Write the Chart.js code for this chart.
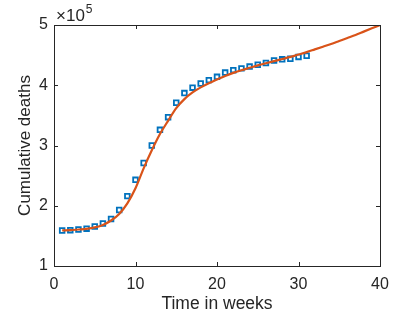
<!DOCTYPE html>
<html>
<head>
<meta charset="utf-8">
<script src="https://cdn.jsdelivr.net/npm/chart.js@4"></script>
<style>
  html, body { margin: 0; padding: 0; background: #fff; }
  canvas { display: block; }
</style>
</head>
<body>
<canvas id="grafica" width="420" height="315"></canvas>
<script>
// datos observados (muertes acumuladas por semana)
const semanas = [1,2,3,4,5,6,7,8,9,10,11,12,13,14,15,16,17,18,19,20,21,22,23,24,25,26,27,28,29,30,31];
const muertes = [159000,159500,160600,162000,165600,170500,178000,193000,216000,243000,271000,300000,
  326000,347000,371000,387000,396000,403000,408500,414000,421000,425000,428000,431000,434000,437000,
  441000,443000,444000,447000,449000];

// curva del modelo
const semanasModelo = [1,2,3,4,5,6,7,8,9,10,11,12,13,14,15,16,17,18,19,20,21,22,23,24,25,26,27,28,29,30,
  31,32,33,34,35,36,37,38,39,40];
const muertesModelo = [159000,159500,160600,161700,164000,168000,175500,186500,204000,229000,262000,292000,
  319000,341000,362000,377000,388000,396500,403500,409500,415500,420500,425000,429000,433000,436500,
  440000,443500,447000,451000,455000,459500,464000,468500,473500,478500,483500,489000,494500,500000];

const xTicks = [0, 10, 20, 30, 40];
const yTicks = [100000, 200000, 300000, 400000, 500000];

const colorTexto = "#262626";
const fuente = "'Liberation Sans', Arial, sans-serif";

// caja y marcas hacia adentro, estilo MATLAB
const cajaPlugin = {
  id: "caja",
  afterDraw(chart) {
    const ctx = chart.ctx;
    const a = chart.chartArea;
    const sx = chart.scales.x, sy = chart.scales.y;
    ctx.save();
    ctx.strokeStyle = colorTexto;
    ctx.lineWidth = 1;
    ctx.beginPath();
    xTicks.forEach(v => {
      const px = Math.round(sx.getPixelForValue(v)) + 0.5;
      ctx.moveTo(px, a.bottom); ctx.lineTo(px, a.bottom - 4);
      ctx.moveTo(px, a.top); ctx.lineTo(px, a.top + 4);
    });
    yTicks.forEach(v => {
      const py = Math.round(sy.getPixelForValue(v)) + 0.5;
      ctx.moveTo(a.left, py); ctx.lineTo(a.left + 4, py);
      ctx.moveTo(a.right, py); ctx.lineTo(a.right - 4, py);
    });
    ctx.stroke();
    ctx.strokeRect(Math.round(a.left) + 0.5, Math.round(a.top) + 0.5,
      Math.round(a.right - a.left), Math.round(a.bottom - a.top));
    // multiplicador x10^5
    ctx.fillStyle = colorTexto;
    ctx.textBaseline = "alphabetic";
    ctx.textAlign = "left";
    ctx.font = "17px " + fuente;
    ctx.fillText("\u00d710", a.left + 2, a.top - 4);
    const w = ctx.measureText("\u00d710").width;
    ctx.font = "12px " + fuente;
    ctx.fillText("5", a.left + 3 + w, a.top - 12);
    ctx.restore();
  }
};

const ctx = document.getElementById("grafica").getContext("2d");
const myChart = new Chart(ctx, {
  type: "scatter",
  data: {
    datasets: [
      {
        type: "line",
        data: semanasModelo.map((s, i) => ({ x: s, y: muertesModelo[i] })),
        borderColor: "#D95319",
        borderWidth: 2.2,
        pointRadius: 0,
        cubicInterpolationMode: "monotone",
        fill: false,
        order: 0
      },
      {
        data: semanas.map((s, i) => ({ x: s, y: muertes[i] })),
        pointStyle: "rect",
        pointRadius: 3.3,
        pointBorderWidth: 1.8,
        pointBorderColor: "#0072BD",
        pointBackgroundColor: "rgba(0,0,0,0)",
        order: 1
      }
    ]
  },
  options: {
    responsive: false,
    animation: false,
    events: [],
    layout: { padding: { left: 0, top: 25, right: 40, bottom: 0 } },
    plugins: { legend: { display: false }, tooltip: { enabled: false } },
    scales: {
      x: {
        type: "linear",
        min: 0,
        max: 40,
        afterFit: s => { s.height = 49; },
        afterBuildTicks: s => { s.ticks = xTicks.map(v => ({ value: v })); },
        grid: { display: false, drawTicks: false },
        border: { display: false },
        ticks: { color: colorTexto, padding: 9, maxRotation: 0, font: { family: fuente, size: 16 } },
        title: { display: true, text: "Time in weeks", color: colorTexto, padding: { top: 0, bottom: 0 }, font: { family: fuente, size: 17.5 } }
      },
      y: {
        type: "linear",
        min: 100000,
        max: 500000,
        afterFit: s => { s.width = 54; },
        afterBuildTicks: s => { s.ticks = yTicks.map(v => ({ value: v })); },
        grid: { display: false, drawTicks: false },
        border: { display: false },
        ticks: { color: colorTexto, padding: 6, font: { family: fuente, size: 16 }, callback: v => v / 100000 },
        title: { display: true, text: "Cumulative deaths", color: colorTexto, padding: { top: 15, bottom: 0 }, font: { family: fuente, size: 17 } }
      }
    }
  },
  plugins: [cajaPlugin]
});
</script>
</body>
</html>
